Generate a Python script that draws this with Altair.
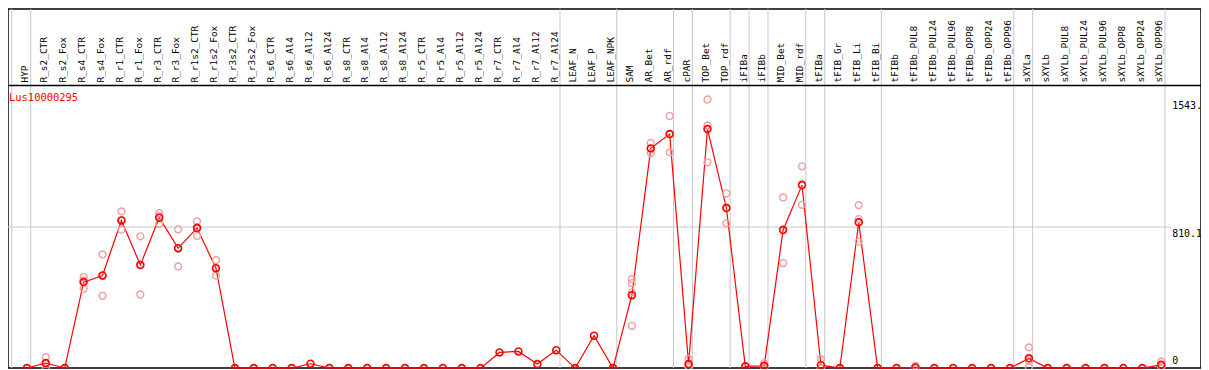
import altair as alt
import pandas as pd

gene = "Lus10000295"

categories = [
    "HYP", "R_s2_CTR", "R_s2_Fox", "R_s4_CTR", "R_s4_Fox", "R_r1_CTR", "R_r1_Fox",
    "R_r3_CTR", "R_r3_Fox", "R_r1s2_CTR", "R_r1s2_Fox", "R_r3s2_CTR", "R_r3s2_Fox",
    "R_s6_CTR", "R_s6_Al4", "R_s6_Al12", "R_s6_Al24", "R_s8_CTR", "R_s8_Al4",
    "R_s8_Al12", "R_s8_Al24", "R_r5_CTR", "R_r5_Al4", "R_r5_Al12", "R_r5_Al24",
    "R_r7_CTR", "R_r7_Al4", "R_r7_Al12", "R_r7_Al24", "LEAF_N", "LEAF_P", "LEAF_NPK",
    "SAM", "AR_Bet", "AR_rdf", "cPAR", "TOP_Bet", "TOP_rdf", "iFIBa", "iFIBb",
    "MID_Bet", "MID_rdf", "tFIBa", "tFIB_Gr", "tFIB_Li", "tFIB_Bi", "tFIBb",
    "tFIBb_PUL8", "tFIBb_PUL24", "tFIBb_PUL96", "tFIBb_OPP8", "tFIBb_OPP24",
    "tFIBb_OPP96", "sXYLa", "sXYLb", "sXYLb_PUL8", "sXYLb_PUL24", "sXYLb_PUL96",
    "sXYLb_OPP8", "sXYLb_OPP24", "sXYLb_OPP96",
]

means = [
    0, 29, 0, 494, 532, 848, 592, 864, 689, 804, 574, 0, 0,
    0, 0, 25, 0, 0, 0, 0, 0, 0, 0, 0, 0,
    90, 96, 23, 103, 0, 186, 0,
    419, 1262, 1344, 23, 1373, 919, 10, 13,
    793, 1051, 17, 0, 837, 0, 0,
    4, 0, 0, 0, 0, 0, 56, 0, 0, 0, 0, 0, 0, 19,
]

rep_index = [
    1, 1, 1, 3, 3, 3, 4, 4, 4, 5, 5, 5, 6, 6, 6, 7, 7, 7, 8, 8, 8, 9, 9, 9, 10, 10, 10,
    32, 32, 32, 32, 33, 33, 33, 34, 34, 34, 35, 35, 35, 36, 36, 36, 37, 37, 37,
    39, 39, 39, 40, 40, 40, 41, 41, 41, 42, 42, 42, 44, 44, 44, 47, 47, 47,
    53, 53, 53, 60, 60, 60,
]
rep_value = [
    63, 24, 0, 523, 456, 503, 653, 415, 528, 900, 795, 849, 757, 423, 596,
    890, 829, 873, 797, 584, 686, 843, 758, 811, 620, 532, 570,
    511, 488, 435, 243, 1293, 1235, 1258, 1448, 1239, 1345, 52, 10, 7,
    1543, 1182, 1394, 1004, 831, 922,
    29, 5, 5, 980, 603, 796, 1159, 938, 1056, 52, 0, 0, 936, 856, 726, 13, 0, 0,
    119, 5, 44, 38, 10, 9,
]

group_breaks = [-1, 0, 28, 31, 34, 35, 37, 38, 39, 41, 42, 45, 52, 53, 60]
grid_values = [810.1]
tick_labels = ["1543.", "810.1"]
tick_values = [1543, 810.1]
zero_label = ["0"]

# view covers reference pixels x 8..1207, y 8..369 (page margin is 8px)
W, H = 1199, 361
OFF = 8

xs = alt.Scale(domain=[-1, 1180 / 19], nice=False, zero=False)
ys = alt.Scale(domain=[0, 1543 * 361 / 270], nice=False, zero=False)

df_means = pd.DataFrame({"idx": list(range(len(categories))), "cat": categories, "v": means})
df_means["lx"] = df_means["idx"] - 0.09
df_reps = pd.DataFrame({"idx": rep_index, "v": rep_value})
df_breaks = pd.DataFrame({"pos": [b + 0.2 for b in group_breaks]})
df_grid = pd.DataFrame({"v": grid_values})
df_ticks = pd.DataFrame({"lab": tick_labels, "v": tick_values})
df_zero = pd.DataFrame({"lab": zero_label, "v": [0]})
df_title = pd.DataFrame({"t": [gene]})

MONO = "DejaVu Sans Mono"

vlines = alt.Chart(df_breaks).mark_rule(color="#c8c8c8", strokeWidth=1).encode(
    x=alt.X("pos:Q", scale=xs, axis=None), y=alt.value(0), y2=alt.value(H)
)
hline = alt.Chart(df_grid).mark_rule(color="#c8c8c8", strokeWidth=1).encode(
    y=alt.Y("v:Q", scale=ys, axis=None), x=alt.value(0), x2=alt.value(1177 - OFF)
)
header_line = alt.Chart(df_title).mark_rule(color="black", strokeWidth=1.5).encode(
    y=alt.value(85 - OFF), x=alt.value(0), x2=alt.value(W)
)
line = alt.Chart(df_means).mark_line(color="#ff0000", strokeWidth=1.2).encode(
    x=alt.X("idx:Q", scale=xs, axis=None), y=alt.Y("v:Q", scale=ys, axis=None)
)
reps = alt.Chart(df_reps).mark_point(
    shape="circle", filled=False, color="#f0a0a0", size=48, strokeWidth=1.4, opacity=1
).encode(x=alt.X("idx:Q", scale=xs, axis=None), y=alt.Y("v:Q", scale=ys, axis=None))
pts = alt.Chart(df_means).mark_point(
    shape="circle", filled=False, color="#ff0000", size=48, strokeWidth=1.6, opacity=1
).encode(x=alt.X("idx:Q", scale=xs, axis=None), y=alt.Y("v:Q", scale=ys, axis=None))
headers = alt.Chart(df_means).mark_text(
    angle=270, align="left", baseline="middle", font=MONO, fontSize=9.5, color="black"
).encode(x=alt.X("lx:Q", scale=xs, axis=None), y=alt.value(82 - OFF), text="cat:N")
ticks = alt.Chart(df_ticks).mark_text(
    align="left", baseline="top", font=MONO, fontSize=10, color="black", dy=2
).encode(x=alt.value(1178 - OFF), y=alt.Y("v:Q", scale=ys, axis=None), text="lab:N")
zero_t = alt.Chart(df_zero).mark_text(
    align="left", baseline="bottom", font=MONO, fontSize=10, color="black", dy=-2
).encode(x=alt.value(1178 - OFF), y=alt.Y("v:Q", scale=ys, axis=None), text="lab:N")
title = alt.Chart(df_title).mark_text(
    align="left", baseline="middle", font=MONO, fontSize=10.5, color="#ff0000"
).encode(x=alt.value(9 - OFF), y=alt.value(98 - OFF), text="t:N")

chart = alt.layer(
    vlines, hline, header_line, line, reps, pts, headers, ticks, zero_t, title
).properties(width=W, height=H, padding=0, autosize="none").configure_view(
    stroke="black", strokeWidth=1.5
)

chart.save("out.html", embed_options={"renderer": "svg", "actions": False})
